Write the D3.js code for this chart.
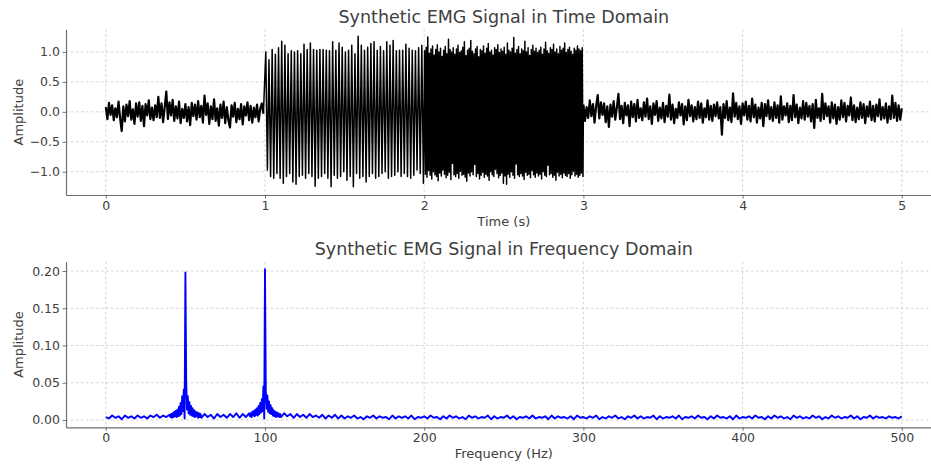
<!DOCTYPE html>
<html>
<head>
<meta charset="utf-8">
<script src="https://cdn.jsdelivr.net/npm/d3@7/dist/d3.min.js"></script>
<style>
  html, body { margin: 0; padding: 0; background: #fff; }
  svg { display: block; font-family: "DejaVu Sans", sans-serif; }
</style>
</head>
<body>
<div id="chart"></div>
<script>
// ---- time domain: rest noise, 50 Hz burst, 100 Hz burst, rest noise ----
// rest noise 0.00 .. 0.99 s, one value every 10 ms
var timeNoiseStart = [
  0.08, -0.12, 0.15, -0.05, 0.11, -0.14, 0.06, -0.09, 0.17, -0.11,
  -0.32, 0.09, -0.16, 0.12, -0.07, 0.18, -0.13, 0.04, -0.2, 0.14,
  -0.08, 0.16, -0.15, 0.1, -0.24, 0.13, -0.06, 0.19, -0.12, 0.07,
  -0.14, 0.11, -0.09, 0.25, -0.1, 0.14, -0.17, 0.08, 0.34, -0.12,
  0.16, -0.06, 0.2, -0.15, 0.09, -0.11, 0.17, -0.19, 0.05, -0.1,
  0.13, -0.16, 0.08, -0.22, 0.15, -0.07, 0.12, -0.13, 0.18, -0.09,
  0.1, -0.18, 0.27, -0.05, 0.14, -0.2, 0.09, -0.12, 0.21, -0.15,
  0.06, -0.23, 0.12, -0.1, 0.17, -0.19, 0.08, -0.14, -0.26, 0.11,
  -0.08, 0.15, -0.17, 0.05, -0.12, 0.13, -0.21, 0.09, -0.06, 0.16,
  -0.14, 0.1, -0.18, 0.07, -0.09, 0.12, -0.16, 0.05, 0.14, -0.03
];
// 1 .. 2 s: one peak and one trough per 50 Hz cycle
var burst50Peaks = [
  1.0, 0.87, 1.04, 0.96, 1.07, 1.18, 1.11, 0.97, 1.02, 1.0,
  1.02, 0.97, 1.13, 1.04, 1.15, 1.04, 1.03, 1.04, 1.04, 1.03,
  1.02, 1.17, 1.03, 1.15, 1.08, 1.0, 1.03, 1.11, 0.97, 1.26,
  1.11, 1.03, 1.08, 1.14, 1.17, 1.03, 1.09, 1.02, 1.17, 1.11,
  1.19, 1.02, 1.03, 1.03, 1.13, 1.06, 1.03, 1.02, 1.07, 1.11
];
var burst50Troughs = [
  -0.97, -1.08, -1.11, -1.03, -1.11, -1.19, -1.08, -1.03, -1.17, -1.21,
  -1.08, -1.06, -1.11, -1.03, -1.08, -1.24, -1.11, -1.08, -1.03, -1.11,
  -1.25, -1.06, -1.11, -1.08, -1.0, -1.14, -1.08, -1.25, -1.03, -1.11,
  -1.08, -1.17, -1.08, -1.03, -1.11, -1.08, -1.03, -1.0, -1.11, -1.08,
  -1.06, -1.0, -1.08, -1.03, -1.08, -1.11, -1.06, -0.97, -1.03, -1.19
];
// 2 .. 3 s: one peak and one trough per 100 Hz cycle
var burst100Peaks = [
  1.02, 1.08, 1.25, 0.98, 1.05, 1.1, 0.95, 1.04, 1.12, 1.0,
  1.06, 0.93, 1.03, 1.09, 0.97, 1.21, 1.04, 1.0, 1.07, 0.96,
  1.05, 1.11, 0.99, 1.02, 1.08, 1.17, 0.94, 1.03, 1.06, 1.19,
  1.01, 0.97, 1.05, 1.09, 0.92, 1.04, 1.02, 1.1, 0.98, 1.06,
  1.14, 1.0, 1.03, 0.95, 1.07, 1.04, 1.12, 0.99, 1.05, 1.01,
  1.08, 0.96, 1.15, 1.03, 1.0, 1.06, 1.24, 0.98, 1.04, 1.09,
  0.97, 1.05, 1.02, 1.18, 1.0, 1.07, 0.94, 1.04, 1.11, 1.01,
  1.06, 0.99, 1.03, 1.08, 0.96, 1.05, 1.16, 1.02, 0.98, 1.07,
  1.04, 1.13, 1.0, 1.05, 0.97, 1.09, 1.03, 1.06, 1.15, 0.99,
  1.04, 1.08, 1.01, 0.96, 1.06, 1.03, 1.1, 1.05, 1.02, 1.07
];
var burst100Troughs = [
  -1.04, -1.09, -0.98, -1.06, -1.12, -1.0, -1.05, -1.08, -1.15, -1.02,
  -1.07, -0.97, -1.04, -1.1, -1.06, -1.01, -1.13, -0.86, -1.05, -1.08,
  -1.03, -1.11, -0.99, -1.06, -1.04, -1.09, -1.16, -1.02, -1.07, -1.0,
  -1.05, -0.88, -1.08, -1.03, -1.12, -1.06, -1.01, -1.09, -1.04, -1.07,
  -1.14, -1.0, -1.05, -1.08, -0.96, -1.03, -1.1, -1.06, -1.02, -1.19,
  -1.07, -1.21, -1.04, -1.09, -1.0, -1.06, -1.11, -0.87, -1.05, -1.08,
  -1.03, -1.07, -1.13, -1.01, -1.06, -1.04, -1.1, -0.98, -1.05, -1.09,
  -1.02, -1.07, -1.04, -1.12, -1.0, -1.06, -1.08, -0.89, -1.05, -1.03,
  -1.09, -1.06, -1.14, -1.01, -1.07, -1.04, -1.1, -1.02, -1.06, -1.08,
  -1.03, -1.11, -1.05, -0.99, -1.07, -1.04, -1.09, -1.06, -1.02, -1.08
];
// rest noise 3.00 .. 5.00 s, one value every 10 ms
var timeNoiseEnd = [
  0.12, -0.15, 0.08, -0.1, 0.19, -0.07, 0.13, -0.18, 0.1, 0.28,
  -0.11, 0.16, -0.05, 0.14, -0.17, 0.09, -0.25, 0.12, -0.08, 0.18,
  -0.13, 0.07, 0.3, -0.12, 0.1, -0.19, 0.15, -0.06, 0.11, -0.24,
  0.17, -0.09, 0.13, -0.16, 0.2, -0.1, 0.06, -0.14, 0.16, -0.08,
  0.22, -0.12, 0.09, -0.2, 0.14, -0.05, 0.18, -0.15, 0.07, -0.11,
  0.15, -0.17, 0.1, -0.08, 0.29, -0.13, 0.12, -0.19, 0.05, -0.1,
  0.16, -0.06, 0.13, -0.21, 0.09, -0.14, 0.2, -0.07, 0.11, -0.16,
  0.08, -0.12, 0.17, -0.1, 0.14, -0.18, 0.06, -0.09, 0.19, -0.13,
  0.1, -0.15, 0.12, -0.07, 0.16, -0.11, 0.08, -0.38, 0.13, -0.1,
  0.18, -0.14, 0.07, -0.17, 0.31, -0.08, 0.15, -0.12, 0.09, -0.2,
  0.14, -0.06, 0.17, -0.13, 0.1, -0.16, 0.22, -0.09, 0.12, -0.18,
  0.07, -0.11, 0.15, -0.24, 0.13, -0.07, 0.19, -0.12, 0.08, -0.15,
  0.16, -0.1, 0.11, -0.18, 0.26, -0.13, 0.09, -0.06, 0.14, -0.17,
  0.1, -0.14, 0.28, -0.09, 0.12, -0.19, 0.07, -0.11, 0.18, -0.13,
  0.15, -0.08, 0.1, -0.16, 0.13, -0.27, 0.2, -0.1, 0.06, -0.15,
  0.3, -0.12, 0.14, -0.07, 0.09, -0.18, 0.16, -0.11, 0.12, -0.2,
  0.08, -0.13, 0.19, -0.09, 0.15, -0.16, 0.1, -0.06, 0.24, -0.14,
  0.11, -0.17, 0.07, -0.12, 0.16, -0.1, 0.13, -0.19, 0.09, -0.08,
  0.17, -0.14, 0.1, -0.16, 0.12, -0.07, 0.21, -0.13, 0.08, -0.11,
  0.14, -0.18, 0.09, -0.12, 0.27, -0.1, 0.15, -0.15, 0.11, -0.13,
  0.06
];

// ---- frequency domain magnitude ----
// 0 .. 40 Hz, every 2 Hz
var specFloorLow = [
  0.004, 0.002, 0.006, 0.003, 0.005, 0.001, 0.006, 0.003, 0.005, 0.002,
  0.006, 0.003, 0.005, 0.002, 0.006, 0.004, 0.007, 0.003, 0.006, 0.004,
  0.007
];
// 40.5 .. 59.5 Hz, every 0.5 Hz
var specPeak50 = [
  0.004, 0.008, 0.003, 0.009, 0.004, 0.011, 0.005, 0.012, 0.004, 0.014,
  0.005, 0.018, 0.006, 0.023, 0.008, 0.032, 0.012, 0.041, 0.002, 0.198,
  0.051, 0.014, 0.032, 0.009, 0.024, 0.007, 0.019, 0.006, 0.016, 0.005,
  0.013, 0.004, 0.011, 0.005, 0.01, 0.003, 0.009, 0.004, 0.008
];
// 60 .. 90 Hz, every 2 Hz
var specFloorMid = [
  0.003, 0.008, 0.004, 0.007, 0.002, 0.008, 0.004, 0.007, 0.003, 0.008,
  0.004, 0.009, 0.003, 0.008, 0.004, 0.009
];
// 90.5 .. 109.5 Hz, every 0.5 Hz
var specPeak100 = [
  0.005, 0.009, 0.004, 0.011, 0.006, 0.012, 0.005, 0.014, 0.007, 0.016,
  0.006, 0.019, 0.008, 0.023, 0.01, 0.028, 0.012, 0.045, 0.002, 0.2025,
  0.04, 0.015, 0.033, 0.011, 0.025, 0.009, 0.02, 0.008, 0.016, 0.006,
  0.013, 0.005, 0.011, 0.004, 0.01, 0.005, 0.009, 0.004, 0.008
];
// 110 .. 500 Hz, every 2 Hz
var specFloorHigh = [
  0.004, 0.009, 0.005, 0.008, 0.003, 0.008, 0.004, 0.007, 0.003, 0.008,
  0.004, 0.006, 0.003, 0.007, 0.002, 0.006, 0.003, 0.007, 0.002, 0.006,
  0.002, 0.005, 0.003, 0.006, 0.002, 0.004, 0.001, 0.005, 0.003, 0.006,
  0.002, 0.005, 0.003, 0.004, 0.001, 0.006, 0.002, 0.005, 0.003, 0.005,
  0.002, 0.006, 0.001, 0.004, 0.003, 0.005, 0.002, 0.006, 0.003, 0.004,
  0.001, 0.005, 0.002, 0.006, 0.003, 0.005, 0.002, 0.004, 0.001, 0.006,
  0.003, 0.005, 0.002, 0.004, 0.003, 0.006, 0.001, 0.005, 0.002, 0.004,
  0.003, 0.006, 0.002, 0.005, 0.001, 0.004, 0.003, 0.005, 0.002, 0.006,
  0.002, 0.004, 0.003, 0.005, 0.001, 0.006, 0.002, 0.005, 0.003, 0.004,
  0.002, 0.005, 0.001, 0.006, 0.003, 0.004, 0.002, 0.005, 0.003, 0.006,
  0.001, 0.004, 0.002, 0.005, 0.003, 0.006, 0.002, 0.004, 0.001, 0.005,
  0.003, 0.006, 0.002, 0.005, 0.002, 0.004, 0.003, 0.006, 0.001, 0.005,
  0.002, 0.004, 0.003, 0.005, 0.002, 0.006, 0.001, 0.004, 0.003, 0.005,
  0.002, 0.006, 0.003, 0.004, 0.001, 0.005, 0.002, 0.006, 0.003, 0.004,
  0.002, 0.005, 0.001, 0.006, 0.002, 0.004, 0.003, 0.005, 0.002, 0.006,
  0.003, 0.004, 0.001, 0.005, 0.002, 0.006, 0.003, 0.005, 0.002, 0.004,
  0.001, 0.006, 0.003, 0.005, 0.002, 0.004, 0.002, 0.006, 0.003, 0.005,
  0.001, 0.004, 0.002, 0.006, 0.003, 0.005, 0.002, 0.004, 0.003, 0.006,
  0.002, 0.005, 0.001, 0.004, 0.003, 0.006, 0.002, 0.005, 0.003, 0.004,
  0.002, 0.005, 0.003, 0.004, 0.002, 0.005
];

// ---- ticks ----
var timeTicks = [0, 1, 2, 3, 4, 5];
var ampTicks = [-1, -0.5, 0, 0.5, 1];
var freqTicks = [0, 100, 200, 300, 400, 500];
var specTicks = [0, 0.05, 0.1, 0.15, 0.2];

// ---- build point lists from the arrays ----
var noiseA = timeNoiseStart.map(function (v, i) { return [i * 0.01, v]; });
var noiseB = timeNoiseEnd.map(function (v, i) { return [3 + i * 0.01, v]; });
var burst = [noiseA[noiseA.length - 1]];
burst50Peaks.forEach(function (p, k) {
  burst.push([1 + (k + 0.25) * 0.02, p]);
  burst.push([1 + (k + 0.75) * 0.02, burst50Troughs[k]]);
});
burst100Peaks.forEach(function (p, k) {
  burst.push([2 + (k + 0.25) * 0.01, p]);
  burst.push([2 + (k + 0.75) * 0.01, burst100Troughs[k]]);
});
burst.push(noiseB[0]);

var specPts = [];
specFloorLow.forEach(function (v, i) { specPts.push([i * 2, v]); });
specPeak50.forEach(function (v, i) { specPts.push([40.5 + i * 0.5, v]); });
specFloorMid.forEach(function (v, i) { specPts.push([60 + i * 2, v]); });
specPeak100.forEach(function (v, i) { specPts.push([90.5 + i * 0.5, v]); });
specFloorHigh.forEach(function (v, i) { specPts.push([110 + i * 2, v]); });

var W = 931, H = 465;
var svg = d3.select("#chart").append("svg")
  .attr("width", W)
  .attr("height", H);
svg.append("rect").attr("width", W).attr("height", H).attr("fill", "#fff");

var textColor = "#404040";

function panel(opts) {
  var x = d3.scaleLinear().domain(opts.xDomain).range([66, 941.6]);
  var y = d3.scaleLinear().domain(opts.yDomain).range([opts.bottom, opts.top]);
  var g = svg.append("g");

  // grid
  g.append("g").selectAll("line")
    .data(opts.xTicks)
    .join("line")
    .attr("x1", function (d) { return x(d); })
    .attr("x2", function (d) { return x(d); })
    .attr("y1", opts.top)
    .attr("y2", opts.bottom)
    .attr("stroke", "#c8c8c8")
    .attr("stroke-width", 0.8)
    .attr("stroke-dasharray", "2.5,2.5");
  g.append("g").selectAll("line")
    .data(opts.yTicks)
    .join("line")
    .attr("x1", 66)
    .attr("x2", 941.6)
    .attr("y1", function (d) { return y(d); })
    .attr("y2", function (d) { return y(d); })
    .attr("stroke", "#c8c8c8")
    .attr("stroke-width", 0.8)
    .attr("stroke-dasharray", "2.5,2.5");

  // data lines
  var clipId = "clip-" + opts.name;
  svg.append("clipPath").attr("id", clipId)
    .append("rect")
    .attr("x", 66).attr("y", opts.top)
    .attr("width", 941.6 - 66).attr("height", opts.bottom - opts.top);
  var line = d3.line()
    .x(function (d) { return x(d[0]); })
    .y(function (d) { return y(d[1]); });
  g.append("g").attr("clip-path", "url(#" + clipId + ")")
    .selectAll("path")
    .data(opts.series)
    .join("path")
    .attr("fill", "none")
    .attr("stroke", opts.color)
    .attr("stroke-width", function (d) { return d.width; })
    .attr("stroke-linejoin", "round")
    .attr("d", function (d) { return line(d.points); });

  // axes
  var xa = g.append("g")
    .attr("transform", "translate(0," + opts.bottom + ")")
    .call(d3.axisBottom(x).tickValues(opts.xTicks).tickFormat(d3.format("d"))
      .tickSize(3.5).tickSizeOuter(0).tickPadding(2.5));
  var ya = g.append("g")
    .attr("transform", "translate(66,0)")
    .call(d3.axisLeft(y).tickValues(opts.yTicks).tickFormat(d3.format(opts.yFormat))
      .tickSize(3.5).tickSizeOuter(0).tickPadding(2.5));
  [xa, ya].forEach(function (a) {
    a.attr("font-family", null).attr("font-size", null);
    a.select(".domain").attr("stroke", "#707070").attr("stroke-width", 1.2);
    a.selectAll(".tick line").attr("stroke", "#555").attr("stroke-width", 0.8);
    a.selectAll(".tick text").attr("fill", textColor).attr("font-size", "12.5px");
  });

  // titles and labels
  svg.append("text")
    .attr("x", 503.8).attr("y", opts.titleY)
    .attr("text-anchor", "middle")
    .attr("font-size", "17.5px")
    .attr("fill", textColor)
    .text(opts.title);
  svg.append("text")
    .attr("x", 503.8).attr("y", opts.xLabelY)
    .attr("text-anchor", "middle")
    .attr("font-size", "13px")
    .attr("fill", textColor)
    .text(opts.xLabel);
  svg.append("text")
    .attr("transform", "translate(23," + (opts.top + opts.bottom) / 2 + ") rotate(-90)")
    .attr("text-anchor", "middle")
    .attr("font-size", "13px")
    .attr("fill", textColor)
    .text("Amplitude");
}

panel({
  name: "time",
  xDomain: [-0.25, 5.25],
  yDomain: [-1.388, 1.378],
  top: 29.3, bottom: 195,
  xTicks: timeTicks, yTicks: ampTicks, yFormat: ".1f",
  series: [
    { points: noiseA, width: 2.2 },
    { points: burst, width: 1.5 },
    { points: noiseB, width: 2.2 }
  ],
  color: "#000",
  title: "Synthetic EMG Signal in Time Domain", titleY: 23,
  xLabel: "Time (s)", xLabelY: 225.5
});

panel({
  name: "freq",
  xDomain: [-25, 525],
  yDomain: [-0.0098, 0.2125],
  top: 261.7, bottom: 427.3,
  xTicks: freqTicks, yTicks: specTicks, yFormat: ".2f",
  series: [{ points: specPts, width: 1.9 }],
  color: "#0000ff",
  title: "Synthetic EMG Signal in Frequency Domain", titleY: 254.5,
  xLabel: "Frequency (Hz)", xLabelY: 458
});
</script>
</body>
</html>
